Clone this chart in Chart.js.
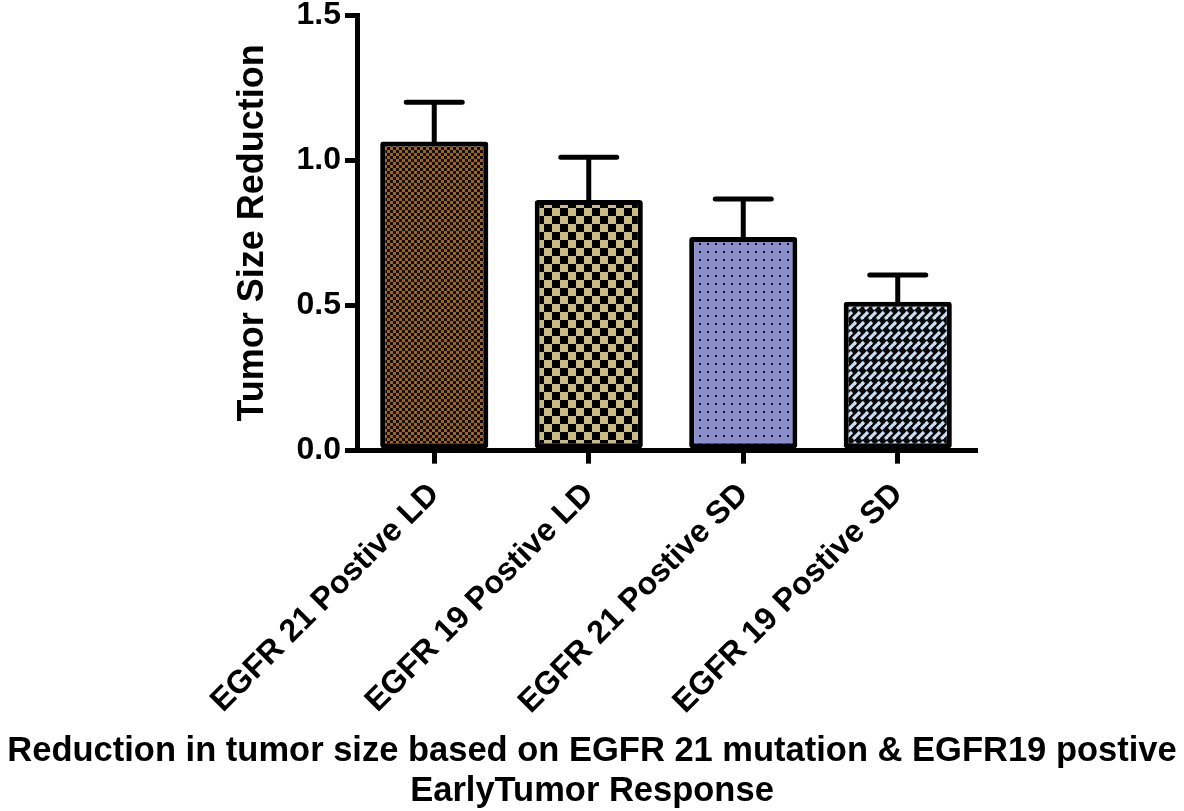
<!DOCTYPE html>
<html>
<head>
<meta charset="utf-8">
<script src="https://cdn.jsdelivr.net/npm/chart.js@4.4.1/dist/chart.umd.min.js"></script>
<style>
  html, body { margin: 0; padding: 0; background: #ffffff; }
  #wrap { width: 1184px; height: 811px; }
</style>
</head>
<body>
<div id="wrap"><canvas id="c" width="1184" height="811"></canvas></div>
<script>
const categories = ["EGFR 21 Postive LD", "EGFR 19 Postive LD", "EGFR 21 Postive SD", "EGFR 19 Postive SD"];
const meanValues = [1.065, 0.863, 0.736, 0.513];
const errorValues = [0.135, 0.148, 0.131, 0.092];
const yTickValues = [0.0, 0.5, 1.0, 1.5];
const yAxisTitle = "Tumor Size Reduction";
const xAxisTitle = ["Reduction in tumor size based on EGFR 21 mutation & EGFR19 postive", "EarlyTumor Response"];

const FONT = "'Liberation Sans', Arial, Helvetica, sans-serif";

function makePattern(w, h, draw) {
  const c = document.createElement('canvas');
  c.width = w; c.height = h;
  const g = c.getContext('2d');
  draw(g, w, h);
  return g.createPattern(c, 'repeat');
}

const patBrown = makePattern(6, 6, (g) => {
  g.fillStyle = '#9a6622'; g.fillRect(0, 0, 6, 6);
  g.fillStyle = '#140c05'; g.fillRect(0, 0, 3, 3); g.fillRect(3, 3, 3, 3);
});
const patKhaki = makePattern(16, 16, (g) => {
  g.fillStyle = '#c8bb84'; g.fillRect(0, 0, 16, 16);
  g.fillStyle = '#000000'; g.fillRect(0, 0, 8, 8); g.fillRect(8, 8, 8, 8);
});
const patDots = makePattern(8, 8, (g) => {
  g.fillStyle = '#8a8ecb'; g.fillRect(0, 0, 8, 8);
  g.fillStyle = '#111122'; g.fillRect(3, 3, 2, 2);
});
const patBrick = makePattern(8, 20, (g) => {
  g.fillStyle = '#0a0a0a'; g.fillRect(0, 0, 8, 20);
  g.strokeStyle = '#c8dcf5'; g.lineWidth = 3.2; g.lineCap = 'butt';
  for (let dx = -8; dx <= 8; dx += 8) {
    g.beginPath(); g.moveTo(dx + 1, 9); g.lineTo(dx + 8, 2); g.stroke();
    g.beginPath(); g.moveTo(dx + 5, 19); g.lineTo(dx + 12, 12); g.stroke();
  }
});

const errorBarPlugin = {
  id: 'errorBars',
  afterDatasetsDraw(chart) {
    const ctx = chart.ctx;
    const meta = chart.getDatasetMeta(0);
    const yScale = chart.scales.y;
    ctx.save();
    ctx.strokeStyle = '#000000';
    ctx.lineWidth = 5;
    ctx.lineCap = 'round';
    meta.data.forEach((bar, i) => {
      const top = yScale.getPixelForValue(meanValues[i] + errorValues[i]);
      const base = yScale.getPixelForValue(meanValues[i]);
      ctx.beginPath();
      ctx.moveTo(bar.x, base);
      ctx.lineTo(bar.x, top);
      ctx.moveTo(bar.x - 28, top);
      ctx.lineTo(bar.x + 28, top);
      ctx.stroke();
    });
    ctx.restore();
  }
};

new Chart(document.getElementById('c'), {
  type: 'bar',
  data: {
    labels: categories,
    datasets: [{
      data: meanValues,
      yAxisID: 'y',
      backgroundColor: [patBrown, patKhaki, patDots, patBrick],
      borderColor: '#000000',
      borderWidth: 5,
      borderSkipped: false,
      borderRadius: 3,
      barPercentage: 0.70,
      categoryPercentage: 1.0
    }]
  },
  options: {
    responsive: false,
    animation: false,
    devicePixelRatio: 1,
    layout: { padding: { top: 0, right: 0, left: 0, bottom: 0 } },
    plugins: {
      legend: { display: false },
      tooltip: { enabled: false },
      title: {
        display: true,
        position: 'bottom',
        text: xAxisTitle,
        color: '#000000',
        font: { family: FONT, size: 34.5, weight: 'bold', lineHeight: 1.15 },
        padding: { top: 0, bottom: 0 }
      }
    },
    scales: {
      x: {
        offset: true,
        border: { display: true, color: '#000000', width: 5 },
        grid: { display: true, drawOnChartArea: false, drawTicks: true, offset: false, tickLength: 13, lineWidth: 5, color: '#000000' },
        ticks: {
          color: '#000000',
          autoSkip: false,
          maxRotation: 45,
          minRotation: 45,
          padding: 12,
          font: { family: FONT, size: 32, weight: 'bold' }
        },
        afterFit(scale) { scale.height = 281; }
      },
      y: {
        position: 'left',
        min: 0,
        max: 1.5,
        afterBuildTicks(scale) { scale.ticks = yTickValues.map(v => ({ value: v })); },
        border: { display: true, color: '#000000', width: 5 },
        grid: { display: true, drawOnChartArea: false, drawTicks: true, tickLength: 12, lineWidth: 5, color: '#000000' },
        ticks: {
          color: '#000000',
          padding: 4,
          font: { family: FONT, size: 32, weight: 'bold', lineHeight: 0.7 },
          callback: (v) => Number(v).toFixed(1)
        },
        title: {
          display: true,
          text: yAxisTitle,
          color: '#000000',
          padding: { top: 231, bottom: 0 },
          font: { family: FONT, size: 36, weight: 'bold', lineHeight: 1.2 }
        },
        afterFit(scale) { scale.width = 357; }
      },
      spacer: {
        type: 'linear',
        position: 'right',
        display: true,
        grid: { display: false },
        border: { display: false },
        ticks: { display: false },
        afterFit(scale) { scale.width = 209; }
      }
    }
  },
  plugins: [errorBarPlugin]
});
</script>
</body>
</html>
